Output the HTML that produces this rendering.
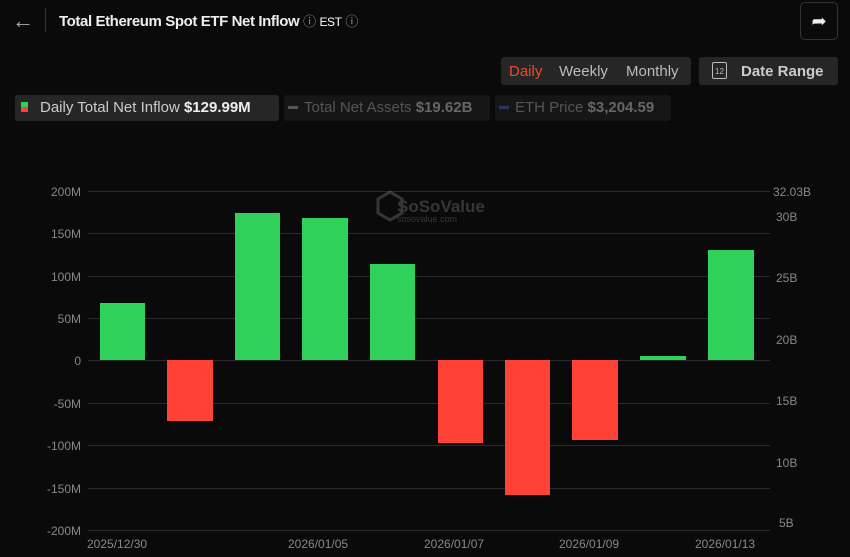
<!DOCTYPE html>
<html><head><meta charset="utf-8"><style>
body{margin:0;width:850px;height:557px;background:#0a0a0a;font-family:"Liberation Sans",sans-serif;overflow:hidden;position:relative;color:#ddd}
.a{position:absolute;white-space:nowrap}
</style></head><body>
<div class="a" style="left:12px;top:8px;font-size:22px;color:#aaa">←</div>
<div class="a" style="left:45px;top:8px;width:1px;height:24px;background:#333"></div>
<div class="a" style="left:59px;top:11px;font-size:15px;font-weight:bold;color:#eee;letter-spacing:-0.4px">Total Ethereum Spot ETF Net Inflow <span style="font-weight:normal;color:#999;font-size:13px">ⓘ</span> <span style="font-size:12px;font-weight:normal;color:#fff">EST</span> <span style="font-weight:normal;color:#999;font-size:13px">ⓘ</span></div>
<div class="a" style="left:800px;top:2px;width:36px;height:36px;border:1px solid #333;border-radius:5px;color:#eee;font-size:18px;text-align:center;line-height:36px">➦</div>
<div class="a" style="left:501px;top:57px;width:190px;height:28px;background:#262626;border-radius:3px"></div>
<div class="a" style="left:509px;top:63px;font-size:15px;color:#f04a2c">Daily</div>
<div class="a" style="left:559px;top:63px;font-size:15px;color:#bbb">Weekly</div>
<div class="a" style="left:626px;top:63px;font-size:15px;color:#bbb">Monthly</div>
<div class="a" style="left:699px;top:57px;width:139px;height:28px;background:#262626;border-radius:3px"></div>
<div class="a" style="left:712px;top:62px;width:13px;height:15px;border:1px solid #bbb;border-radius:2px;font-size:8px;color:#bbb;text-align:center;line-height:17px">12</div>
<div class="a" style="left:741px;top:63px;font-size:15px;font-weight:bold;color:#ccc">Date Range</div>
<div class="a" style="left:15px;top:95px;width:264px;height:26px;background:#262626;border-radius:3px"></div>
<div class="a" style="left:21px;top:102px;width:7px;height:5px;background:#2fd15a"></div>
<div class="a" style="left:21px;top:107px;width:7px;height:5px;background:#ff4136"></div>
<div class="a" style="left:40px;top:99px;font-size:15px;color:#ccc">Daily Total Net Inflow <b style="color:#eee">$129.99M</b></div>
<div class="a" style="left:284px;top:95px;width:206px;height:26px;background:#161616;border-radius:3px"></div>
<div class="a" style="left:288px;top:106px;width:10px;height:3px;background:#555"></div>
<div class="a" style="left:304px;top:99px;font-size:15px;color:#555">Total Net Assets <b style="color:#666">$19.62B</b></div>
<div class="a" style="left:495px;top:95px;width:176px;height:26px;background:#161616;border-radius:3px"></div>
<div class="a" style="left:499px;top:106px;width:10px;height:3px;background:#2a3560"></div>
<div class="a" style="left:515px;top:99px;font-size:15px;color:#555">ETH Price <b style="color:#666">$3,204.59</b></div>
<svg class="a" style="left:0;top:0" width="850" height="557" font-family="Liberation Sans, sans-serif">
<g stroke="#2a2a2a" stroke-width="1">
<line x1="88" x2="770" y1="191.5" y2="191.5"/><line x1="88" x2="770" y1="233.5" y2="233.5"/><line x1="88" x2="770" y1="276.5" y2="276.5"/><line x1="88" x2="770" y1="318.5" y2="318.5"/><line x1="88" x2="770" y1="360.5" y2="360.5"/><line x1="88" x2="770" y1="403.5" y2="403.5"/><line x1="88" x2="770" y1="445.5" y2="445.5"/><line x1="88" x2="770" y1="488.5" y2="488.5"/><line x1="88" x2="770" y1="530.5" y2="530.5"/>
</g>
<g fill="#888" font-size="12" text-anchor="end">
<text x="81" y="196">200M</text><text x="81" y="238">150M</text><text x="81" y="281">100M</text><text x="81" y="323">50M</text><text x="81" y="365">0</text><text x="81" y="408">-50M</text><text x="81" y="450">-100M</text><text x="81" y="493">-150M</text><text x="81" y="535">-200M</text>
</g>
<g fill="#888" font-size="12">
<text x="773" y="196">32.03B</text><text x="776" y="221">30B</text><text x="776" y="282">25B</text><text x="776" y="344">20B</text><text x="776" y="405">15B</text><text x="776" y="467">10B</text><text x="779" y="527">5B</text>
</g>
<g fill="#888" font-size="12">
<text x="87" y="548">2025/12/30</text><text x="288" y="548">2026/01/05</text><text x="424" y="548">2026/01/07</text><text x="559" y="548">2026/01/09</text><text x="695" y="548">2026/01/13</text>
</g>
<g opacity="0.35">
<path d="M378 199 l12 -7 l12 7 v14 l-12 7 l-12 -7z" fill="none" stroke="#888" stroke-width="3"/>
<text x="397" y="212" fill="#888" font-size="17" font-weight="bold">SoSoValue</text>
<text x="397" y="222" fill="#888" font-size="9">sosovalue.com</text>
</g>
<g fill="#2fd15a">
<rect x="100" y="303" width="45" height="57"/><rect x="235" y="213" width="45" height="147"/><rect x="302" y="218" width="46" height="142"/><rect x="370" y="264" width="45" height="96"/><rect x="640" y="356" width="46" height="4"/><rect x="708" y="250" width="46" height="110"/>
</g>
<g fill="#ff4136">
<rect x="167" y="360" width="46" height="61"/><rect x="438" y="360" width="45" height="83"/><rect x="505" y="360" width="45" height="135"/><rect x="572" y="360" width="46" height="80"/>
</g>
</svg>
</body></html>
